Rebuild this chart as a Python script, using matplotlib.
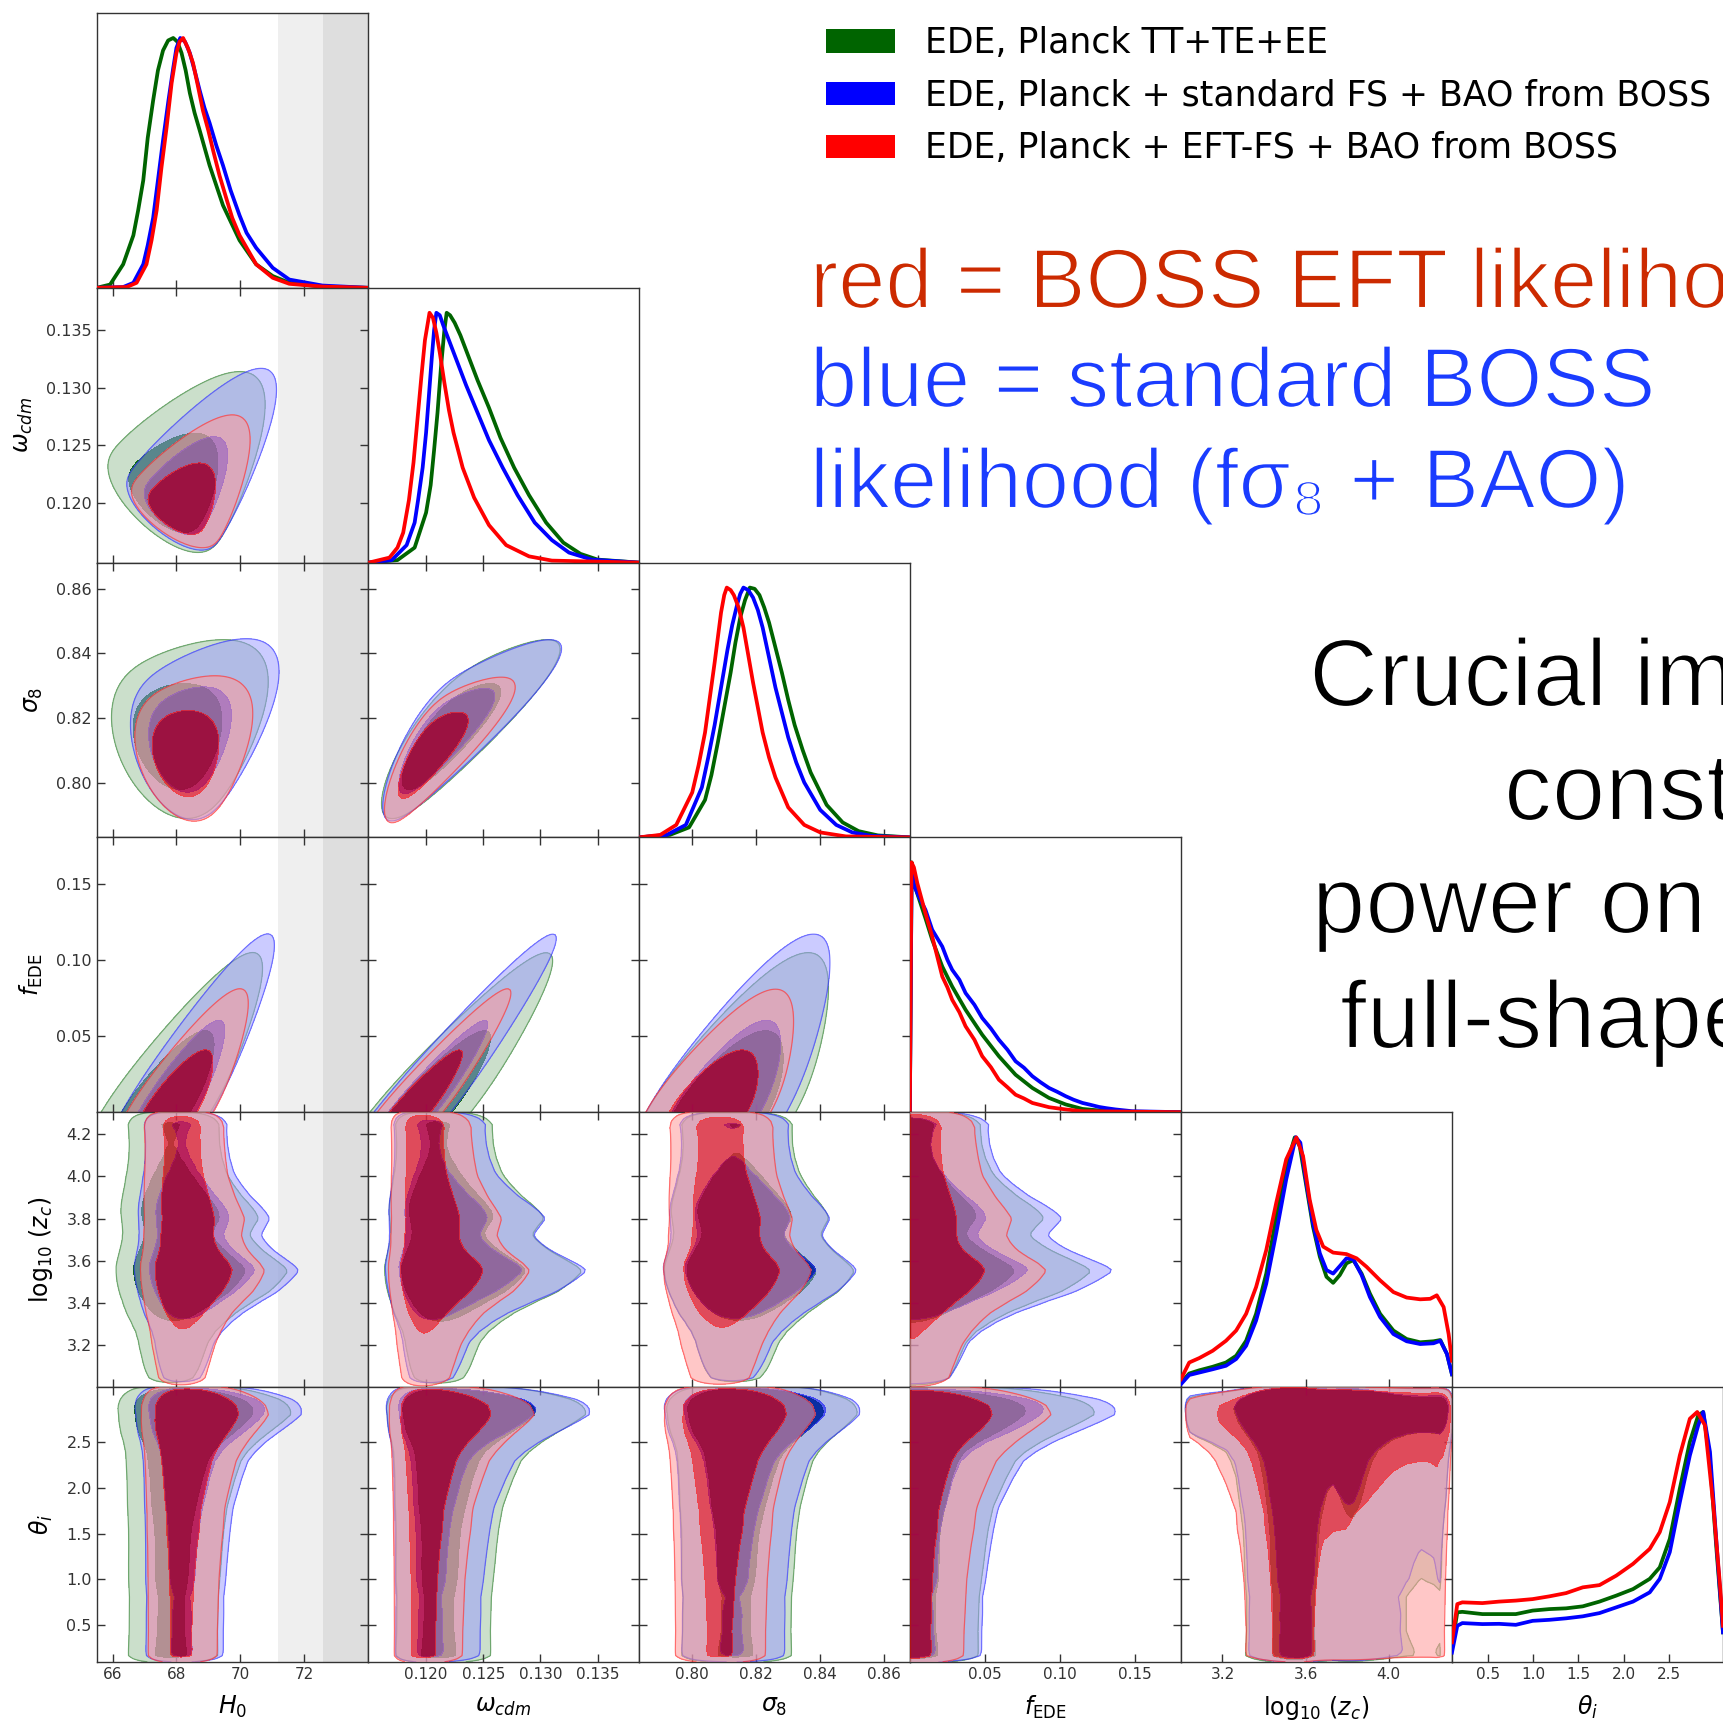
import numpy as np
import matplotlib
matplotlib.use("Agg")
import matplotlib.pyplot as plt
import matplotlib.patheffects as pe
from matplotlib.patches import Patch
from matplotlib.ticker import FormatStrFormatter

# runs: green, blue, red
run_labels = ["EDE, Planck TT+TE+EE",
              "EDE, Planck + standard FS + BAO from BOSS",
              "EDE, Planck + EFT-FS + BAO from BOSS"]
run_colors = ["#006400", "#0000ff", "#ff0000"]

par_labels = [r"$H_0$", r"$\omega_{cdm}$", r"$\sigma_8$", r"$f_{\rm EDE}$",
              r"$\log_{10}\,(z_c)$", r"$\theta_i$"]
par_ranges = [(65.5, 74.0), (0.1149, 0.1386), (0.7833, 0.868),
              (0.0, 0.1805), (3.0, 4.305), (0.1, 3.1)]
x_ticks = [[66, 68, 70, 72], [0.120, 0.125, 0.130, 0.135], [0.80, 0.82, 0.84, 0.86],
           [0.05, 0.10, 0.15], [3.2, 3.6, 4.0], [0.5, 1.0, 1.5, 2.0, 2.5]]
y_ticks = [[], [0.120, 0.125, 0.130, 0.135], [0.80, 0.82, 0.84, 0.86],
           [0.05, 0.10, 0.15], [3.2, 3.4, 3.6, 3.8, 4.0, 4.2], [0.5, 1.0, 1.5, 2.0, 2.5]]
tick_fmt = ["%d", "%.3f", "%.2f", "%.2f", "%.1f", "%.1f"]

# SH0ES H0 band
shoes_h0, shoes_err = 74.03, 1.42

# 1D marginals (value, normalised density)
h0_green = [(65.5, 0), (65.92, 0.013), (66.33, 0.094), (66.65, 0.21), (66.8, 0.31), (66.96, 0.43),
            (67.1, 0.6), (67.27, 0.75), (67.42, 0.87), (67.58, 0.95), (67.74, 0.99), (67.9, 1.0),
            (68.03, 0.985), (68.16, 0.94), (68.29, 0.87), (68.42, 0.78), (68.57, 0.70), (68.73, 0.63),
            (69.04, 0.49), (69.46, 0.33), (69.98, 0.19), (70.5, 0.094), (71.02, 0.047), (71.54, 0.02),
            (72.58, 0.004), (74.0, 0)]
h0_blue = [(65.5, 0), (66.33, 0.003), (66.65, 0.02), (66.96, 0.094), (67.1, 0.17), (67.27, 0.28),
           (67.42, 0.43), (67.58, 0.59), (67.75, 0.75), (67.9, 0.88), (68.0, 0.96), (68.12, 1.0),
           (68.27, 0.985), (68.42, 0.94), (68.57, 0.87), (68.73, 0.79), (68.88, 0.72), (69.04, 0.66),
           (69.25, 0.57), (69.46, 0.49), (69.7, 0.39), (69.98, 0.29), (70.2, 0.22), (70.5, 0.16),
           (71.02, 0.08), (71.54, 0.033), (72.58, 0.009), (74.0, 0)]
h0_red = [(65.5, 0), (66.44, 0.003), (66.75, 0.02), (67.06, 0.094), (67.22, 0.19), (67.38, 0.31),
          (67.53, 0.48), (67.69, 0.64), (67.85, 0.82), (68.0, 0.94), (68.1, 0.985), (68.21, 1.0),
          (68.36, 0.96), (68.52, 0.9), (68.67, 0.81), (68.83, 0.71), (69.0, 0.63), (69.15, 0.55),
          (69.35, 0.45), (69.56, 0.36), (69.75, 0.28), (69.98, 0.21), (70.5, 0.094), (71.02, 0.04),
          (71.54, 0.016), (72.58, 0.005), (74.0, 0)]

wcdm_green = [(0.1150, 0), (0.1175, 0.01), (0.1190, 0.06), (0.1200, 0.2), (0.1204, 0.31), (0.1207, 0.45),
              (0.1210, 0.6), (0.1213, 0.78), (0.1216, 0.93), (0.1218, 1.0), (0.1221, 0.99), (0.1225, 0.96),
              (0.1230, 0.91), (0.1235, 0.85), (0.1245, 0.73), (0.1255, 0.62), (0.1265, 0.5),
              (0.1277, 0.38), (0.1290, 0.27), (0.1305, 0.16), (0.1320, 0.08), (0.1335, 0.035),
              (0.1350, 0.012), (0.1386, 0)]
wcdm_blue = [(0.1150, 0), (0.1170, 0.01), (0.1183, 0.07), (0.1190, 0.16), (0.1193, 0.25), (0.1197, 0.38),
             (0.1200, 0.52), (0.1203, 0.7), (0.1205, 0.82), (0.1207, 0.93), (0.1209, 1.0), (0.1212, 0.99),
             (0.1215, 0.95), (0.1220, 0.89), (0.1225, 0.83), (0.1235, 0.71), (0.1245, 0.6), (0.1255, 0.49),
             (0.1267, 0.38), (0.1280, 0.27), (0.1295, 0.16), (0.1310, 0.09), (0.1325, 0.04), (0.1345, 0.012),
             (0.1386, 0)]
wcdm_red = [(0.1150, 0), (0.1168, 0.02), (0.1175, 0.06), (0.1180, 0.12), (0.1185, 0.25), (0.1189, 0.4),
            (0.1193, 0.6), (0.1196, 0.75), (0.1199, 0.89), (0.1203, 1.0), (0.1206, 0.98), (0.1209, 0.92),
            (0.1212, 0.84), (0.1216, 0.72), (0.1220, 0.61), (0.1224, 0.52), (0.1232, 0.38), (0.1242, 0.26),
            (0.1255, 0.15), (0.1270, 0.07), (0.1290, 0.025), (0.1310, 0.008), (0.1386, 0)]

s8_green = [(0.7833, 0), (0.793, 0.01), (0.799, 0.04), (0.804, 0.15), (0.806, 0.25), (0.808, 0.38),
            (0.810, 0.52), (0.812, 0.66), (0.8135, 0.78), (0.815, 0.88), (0.8165, 0.95), (0.818, 1.0),
            (0.8195, 0.995), (0.821, 0.97), (0.8225, 0.92), (0.824, 0.86), (0.826, 0.76), (0.828, 0.66),
            (0.830, 0.55), (0.832, 0.45), (0.8345, 0.35), (0.837, 0.26), (0.842, 0.13), (0.847, 0.06),
            (0.852, 0.025), (0.858, 0.008), (0.868, 0)]
s8_blue = [(0.7833, 0), (0.792, 0.01), (0.798, 0.05), (0.803, 0.2), (0.805, 0.32), (0.807, 0.45),
           (0.809, 0.6), (0.811, 0.75), (0.8125, 0.85), (0.814, 0.93), (0.8150, 0.975), (0.816, 1.0),
           (0.8175, 0.99), (0.819, 0.96), (0.8205, 0.91), (0.822, 0.84), (0.824, 0.72), (0.826, 0.6),
           (0.828, 0.5), (0.830, 0.4), (0.8325, 0.3), (0.835, 0.22), (0.840, 0.11), (0.845, 0.05),
           (0.850, 0.02), (0.856, 0.006), (0.868, 0)]
s8_red = [(0.7833, 0), (0.790, 0.01), (0.795, 0.05), (0.800, 0.18), (0.802, 0.29), (0.804, 0.42),
          (0.8055, 0.56), (0.807, 0.7), (0.808, 0.8), (0.809, 0.9), (0.81, 0.97), (0.8108, 1.0),
          (0.812, 0.99), (0.813, 0.97), (0.8145, 0.92), (0.816, 0.84), (0.8175, 0.73), (0.819, 0.62),
          (0.8205, 0.52), (0.822, 0.42), (0.824, 0.32), (0.826, 0.24), (0.830, 0.12), (0.835, 0.05),
          (0.840, 0.02), (0.848, 0.004), (0.868, 0)]

fede_green = [(0, 0), (0.0012, 1.0), (0.0027, 0.916), (0.006, 0.856), (0.0104, 0.776), (0.0149, 0.69),
              (0.0216, 0.583), (0.0282, 0.503), (0.0371, 0.41), (0.0482, 0.31), (0.0593, 0.224),
              (0.0704, 0.15), (0.0816, 0.097), (0.0927, 0.057), (0.1038, 0.031), (0.115, 0.013),
              (0.126, 0.007), (0.148, 0.001), (0.1805, 0)]
fede_blue = [(0, 0), (0.0012, 0.98), (0.0027, 0.91), (0.006, 0.863), (0.0104, 0.81), (0.0149, 0.73),
             (0.0216, 0.663), (0.025, 0.61), (0.0282, 0.57), (0.033, 0.53), (0.0371, 0.477), (0.043, 0.43),
             (0.0482, 0.377), (0.054, 0.335), (0.0593, 0.29), (0.065, 0.25), (0.0704, 0.204),
             (0.076, 0.178), (0.0816, 0.144), (0.087, 0.12), (0.0927, 0.097), (0.098, 0.082),
             (0.1038, 0.064), (0.109, 0.05), (0.115, 0.037), (0.12, 0.03), (0.126, 0.021), (0.131, 0.016),
             (0.137, 0.011), (0.148, 0.004), (0.1805, 0)]
fede_red = [(0, 0), (0.0011, 1.0), (0.0027, 0.98), (0.005, 0.916), (0.0104, 0.796), (0.0149, 0.703),
            (0.0216, 0.543), (0.025, 0.5), (0.0282, 0.45), (0.033, 0.4), (0.0371, 0.344), (0.043, 0.29),
            (0.0482, 0.224), (0.054, 0.18), (0.0593, 0.13), (0.065, 0.1), (0.0704, 0.07), (0.076, 0.055),
            (0.0816, 0.037), (0.0927, 0.02), (0.1038, 0.011), (0.115, 0.004), (0.1805, 0)]

zc_green = [(3.0, 0.017), (3.040, 0.054), (3.089, 0.067), (3.153, 0.081), (3.217, 0.098), (3.266, 0.125),
            (3.314, 0.185), (3.362, 0.293), (3.411, 0.454), (3.459, 0.683), (3.507, 0.884), (3.548, 0.999),
            (3.572, 0.965), (3.604, 0.804), (3.636, 0.642), (3.669, 0.521), (3.701, 0.441), (3.733, 0.417),
            (3.765, 0.448), (3.797, 0.495), (3.830, 0.508), (3.870, 0.454), (3.910, 0.374), (3.959, 0.293),
            (4.023, 0.226), (4.087, 0.192), (4.152, 0.179), (4.216, 0.183), (4.249, 0.188), (4.281, 0.132),
            (4.305, 0.051)]
zc_blue = [(3.0, 0.011), (3.040, 0.048), (3.089, 0.058), (3.153, 0.071), (3.217, 0.085), (3.266, 0.112),
           (3.314, 0.165), (3.362, 0.266), (3.411, 0.414), (3.459, 0.616), (3.507, 0.831), (3.553, 1.0),
           (3.575, 0.978), (3.604, 0.817), (3.636, 0.656), (3.669, 0.535), (3.701, 0.468), (3.733, 0.454),
           (3.765, 0.484), (3.797, 0.515), (3.830, 0.511), (3.870, 0.448), (3.910, 0.36), (3.959, 0.28),
           (4.023, 0.212), (4.087, 0.183), (4.152, 0.172), (4.216, 0.175), (4.249, 0.185), (4.281, 0.132),
           (4.305, 0.051)]
zc_red = [(3.0, 0.031), (3.040, 0.098), (3.089, 0.116), (3.153, 0.145), (3.217, 0.185), (3.266, 0.226),
          (3.314, 0.293), (3.362, 0.4), (3.411, 0.548), (3.459, 0.737), (3.507, 0.911), (3.556, 0.999),
          (3.588, 0.925), (3.620, 0.75), (3.652, 0.629), (3.685, 0.562), (3.733, 0.538), (3.797, 0.532),
          (3.846, 0.515), (3.894, 0.481), (3.959, 0.427), (4.023, 0.38), (4.087, 0.358), (4.152, 0.351),
          (4.200, 0.353), (4.232, 0.367), (4.265, 0.32), (4.289, 0.212), (4.305, 0.105)]

theta_green = [(0.1, 0.064), (0.159, 0.198), (0.215, 0.2), (0.437, 0.191), (0.622, 0.191), (0.807, 0.191),
               (0.993, 0.205), (1.178, 0.211), (1.363, 0.214), (1.548, 0.222), (1.733, 0.241), (1.919, 0.265),
               (2.104, 0.291), (2.289, 0.332), (2.4, 0.378), (2.511, 0.492), (2.622, 0.693), (2.733, 0.88),
               (2.826, 0.987), (2.881, 1.0), (2.956, 0.8), (3.03, 0.439), (3.1, 0.118)]
theta_blue = [(0.1, 0.037), (0.159, 0.144), (0.215, 0.155), (0.437, 0.151), (0.622, 0.152), (0.807, 0.148),
              (0.993, 0.164), (1.178, 0.168), (1.363, 0.174), (1.548, 0.182), (1.733, 0.195), (1.919, 0.218),
              (2.104, 0.241), (2.289, 0.278), (2.4, 0.332), (2.511, 0.439), (2.622, 0.639), (2.733, 0.826),
              (2.826, 0.947), (2.881, 1.0), (2.956, 0.84), (3.03, 0.465), (3.1, 0.118)]
theta_red = [(0.1, 0.078), (0.159, 0.231), (0.215, 0.238), (0.437, 0.235), (0.622, 0.241), (0.807, 0.245),
             (0.993, 0.251), (1.178, 0.262), (1.363, 0.275), (1.548, 0.298), (1.733, 0.307), (1.919, 0.345),
             (2.104, 0.392), (2.289, 0.452), (2.4, 0.519), (2.511, 0.639), (2.622, 0.826), (2.733, 0.973),
             (2.815, 1.0), (2.9, 0.947), (2.993, 0.626), (3.067, 0.305), (3.1, 0.144)]

marginals = [[h0_green, h0_blue, h0_red], [wcdm_green, wcdm_blue, wcdm_red], [s8_green, s8_blue, s8_red],
             [fede_green, fede_blue, fede_red], [zc_green, zc_blue, zc_red],
             [theta_green, theta_blue, theta_red]]

# summary numbers for the 2D contours, per run (green, blue, red):
# value at f_EDE = 0, shift per unit f_EDE, scatter at fixed f_EDE
h0_base, h0_slope, h0_width = [67.35, 67.7, 67.8], [29.0, 27.0, 27.0], [0.66, 0.55, 0.52]
wcdm_base, wcdm_slope, wcdm_width = [0.1195, 0.1188, 0.1186], [0.105, 0.105, 0.105], [0.0017, 0.0013, 0.0011]
s8_base, s8_slope, s8_width = [0.809, 0.8075, 0.805], [0.26, 0.26, 0.26], [0.009, 0.0085, 0.0075]
corr_pairs = {(0, 1): -0.75, (0, 2): -0.45, (1, 2): 0.8}
# spread of f_EDE as a function of log10(z_c) and theta_i
fede_spread = [0.066, 0.072, 0.054]
fede_z_nodes = [3.0, 3.2, 3.35, 3.45, 3.55, 3.65, 3.72, 3.8, 3.9, 4.0, 4.15, 4.305]
fede_z_weight = [0.5, 0.55, 0.7, 0.9, 1.0, 0.85, 0.78, 0.85, 0.7, 0.6, 0.55, 0.5]
fede_theta_nodes = [0.1, 1.0, 1.8, 2.3, 2.6, 2.8, 2.95, 3.1]
fede_theta_weight = [0.45, 0.48, 0.55, 0.68, 0.85, 1.0, 0.95, 0.8]

outer_alpha = [0.5, 0.5, 0.55]
inner_alpha = [0.9, 0.6, 0.6]


def from_points(pts, grid):
    xs, ys = zip(*pts)
    return np.interp(grid, xs, ys)


def hpd(dens):
    flat = np.sort(dens.ravel())[::-1]
    cum = np.cumsum(flat) / flat.sum()
    return flat[np.searchsorted(cum, 0.95)], flat[np.searchsorted(cum, 0.68)]


def pale(c):
    rgb = np.array(matplotlib.colors.to_rgb(c))
    return tuple(0.4 * rgb + 0.6)


# grids
fg = np.linspace(*par_ranges[3], 181)
zg = np.linspace(*par_ranges[4], 90)
tg = np.linspace(*par_ranges[5], 90)
cg = [np.linspace(*par_ranges[i], 140) for i in range(3)]
grids = [cg[0], cg[1], cg[2], fg, zg, tg]

bases = [h0_base, wcdm_base, s8_base]
slopes = [h0_slope, wcdm_slope, s8_slope]
widths = [h0_width, wcdm_width, s8_width]

dens2d = {}
for k in range(3):
    pz = from_points(marginals[4][k], zg)
    pt = from_points(marginals[5][k], tg)
    pz, pt = pz / pz.sum(), pt / pt.sum()
    scale = fede_spread[k] * np.interp(zg, fede_z_nodes, fede_z_weight)[:, None] \
        * np.interp(tg, fede_theta_nodes, fede_theta_weight)[None, :]
    pf = np.exp(-0.5 * (fg[:, None, None] / scale[None]) ** 2) / scale[None]
    pf /= pf.sum(axis=0, keepdims=True)
    joint = pf * pz[None, :, None] * pt[None, None, :]
    P_fz, P_ft = joint.sum(2), joint.sum(1)
    P_f = P_fz.sum(1)

    norm = []
    for i in range(3):
        mu = bases[i][k] + slopes[i][k] * fg
        norm.append((cg[i][None, :] - mu[:, None]) / widths[i][k])

    for (i, j), r in corr_pairs.items():
        A, B = norm[i], norm[j]
        Q = (A[:, None, :] ** 2 + B[:, :, None] ** 2 - 2 * r * A[:, None, :] * B[:, :, None]) / (1 - r * r)
        dens2d[(j, i, k)] = np.tensordot(P_f, np.exp(-0.5 * Q), axes=(0, 0))
    for i in range(3):
        G = np.exp(-0.5 * norm[i] ** 2)
        dens2d[(3, i, k)] = P_f[:, None] * G
        dens2d[(4, i, k)] = P_fz.T @ G
        dens2d[(5, i, k)] = P_ft.T @ G
    dens2d[(4, 3, k)] = P_fz.T
    dens2d[(5, 3, k)] = P_ft.T
    dens2d[(5, 4, k)] = np.outer(pt, pz)

# layout (pixels of the 1723 x 1721 canvas)
W, H = 1723, 1721
grid_left, grid_top = 96.7, 13.0
cell_w, cell_h = 271.05, 274.8

fig = plt.figure(figsize=(W / 100, H / 100), dpi=100)
npar = 6
for r in range(npar):
    for c in range(r + 1):
        ax = fig.add_axes([(grid_left + c * cell_w) / W, 1 - (grid_top + (r + 1) * cell_h) / H,
                           cell_w / W, cell_h / H])
        ax.set_xlim(par_ranges[c])
        for sp in ax.spines.values():
            sp.set_color("#333333")
            sp.set_linewidth(1.0)
        if c == 0:
            ax.axvspan(shoes_h0 - 2 * shoes_err, shoes_h0 + 2 * shoes_err, color="#efefef", lw=0, zorder=0)
            ax.axvspan(shoes_h0 - shoes_err, shoes_h0 + shoes_err, color="#dedede", lw=0, zorder=0)
        if r == c:
            for k in range(3):
                xs, ys = zip(*marginals[r][k])
                ax.plot(xs, ys, color=run_colors[k], lw=2.7, zorder=2 + k, solid_joinstyle="round")
            ax.set_ylim(0, 1.1)
            ax.set_yticks([])
            ax.tick_params(axis="x", direction="in", length=6, width=1, colors="#333333",
                           labelsize=11, top=False)
        else:
            ax.set_ylim(par_ranges[r])
            for k in range(3):
                d = dens2d[(r, c, k)]
                lo, hi = hpd(d)
                ax.contourf(grids[c], grids[r], d, levels=[lo, hi], colors=[pale(run_colors[k])],
                            alpha=outer_alpha[k], zorder=1 + k)
                ax.contourf(grids[c], grids[r], d, levels=[hi, d.max() * 1.01], colors=[run_colors[k]],
                            alpha=inner_alpha[k], zorder=1 + k)
                ax.contour(grids[c], grids[r], d, levels=[lo], colors=[run_colors[k]],
                           linewidths=0.9, alpha=0.45, zorder=1 + k)
            ax.set_yticks(y_ticks[r])
            ax.yaxis.set_major_formatter(FormatStrFormatter(tick_fmt[r]))
            ax.tick_params(direction="in", length=6, width=1, colors="#333333", labelsize=11,
                           top=True, right=True)
            ax.tick_params(axis="y", labelsize=11.5)
            if c == 0:
                ax.set_ylabel(par_labels[r], fontsize=17, labelpad=8)
            else:
                ax.tick_params(labelleft=False)
        ax.set_xticks(x_ticks[c])
        ax.xaxis.set_major_formatter(FormatStrFormatter(tick_fmt[c]))
        if r == npar - 1:
            ax.set_xlabel(par_labels[c], fontsize=17, labelpad=9)
        else:
            ax.tick_params(labelbottom=False)

handles = [Patch(facecolor=col, edgecolor="none") for col in run_colors]
fig.legend(handles, run_labels, loc="upper left", bbox_to_anchor=(826 / W, 1 - 26 / H),
           frameon=False, fontsize=25, handlelength=2.0, handleheight=0.66, handletextpad=0.86,
           labelspacing=0.54, borderpad=0, borderaxespad=0)

# large annotation text, thinned a little to look like a light weight
big = ["Liberation Sans", "DejaVu Sans"]
thin = [pe.Normal(), pe.Stroke(linewidth=1.5, foreground="white")]
notes = [("red = BOSS EFT likelihood", 810, 308, "#cc2a00", 61),
         ("blue = standard BOSS", 810, 407, "#1a3cff", 61),
         ("likelihood (f\u03c3\u2088 + BAO)", 810, 508, "#1a3cff", 61),
         ("Crucial improvement", 1309, 706, "black", 69),
         ("constraining", 1504, 820, "black", 69),
         ("power on EDE from", 1312, 933, "black", 69),
         ("full-shape data", 1340, 1048, "black", 69)]
for txt, x, y, col, size in notes:
    fig.text(x / W, 1 - y / H, txt, color=col, fontsize=size, family=big, va="baseline",
             path_effects=thin)

fig.savefig("out.png", dpi=100)
